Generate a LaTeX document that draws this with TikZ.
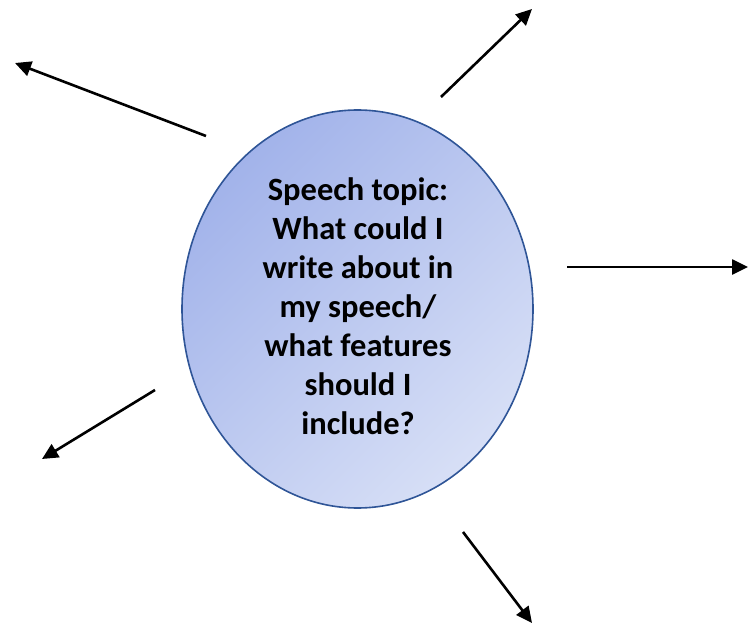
\documentclass[tikz,border=0pt]{standalone}
\usepackage{fontspec}
\setmainfont{Carlito}
\usetikzlibrary{shapes.geometric,arrows.meta}
\definecolor{rimblue}{HTML}{2F5597}
\definecolor{shadeA}{HTML}{A2B3EA}
\definecolor{shadeB}{HTML}{D7DFF6}
\tikzset{
  topicbubble/.style={ellipse, draw=rimblue, line width=1.6pt,
    top color=shadeA, bottom color=shadeB, shading angle=45,
    minimum width=351pt, minimum height=398pt, inner sep=0pt},
  topictext/.style={align=center, inner sep=0pt,
    font=\bfseries\fontsize{32.5pt}{39pt}\selectfont},
  spoke/.style={line width=2.6pt, -{Triangle[length=16pt,width=15pt]}}
}
\begin{document}
\begin{tikzpicture}[x=1pt,y=-1pt]
  \useasboundingbox (0,0) rectangle (748,626);
  % central bubble and its question
  \node[topicbubble] (topic) at (357.5,309) {};
  \node[topictext] (question) at (358,306)
    {Speech topic:\\What could I\\write about in\\my speech/\\what features\\should I\\include?};
  % spokes radiating out from the bubble
  \coordinate (s1) at (206,136);  \coordinate (t1) at (15,63);
  \coordinate (s2) at (441,97);   \coordinate (t2) at (532,9);
  \coordinate (s3) at (567,267);  \coordinate (t3) at (748,267);
  \coordinate (s4) at (155,390);  \coordinate (t4) at (42,459);
  \coordinate (s5) at (463,532);  \coordinate (t5) at (532,623);
  \foreach \i in {1,...,5}
    \draw[spoke] (s\i) -- (t\i);
\end{tikzpicture}
\end{document}
